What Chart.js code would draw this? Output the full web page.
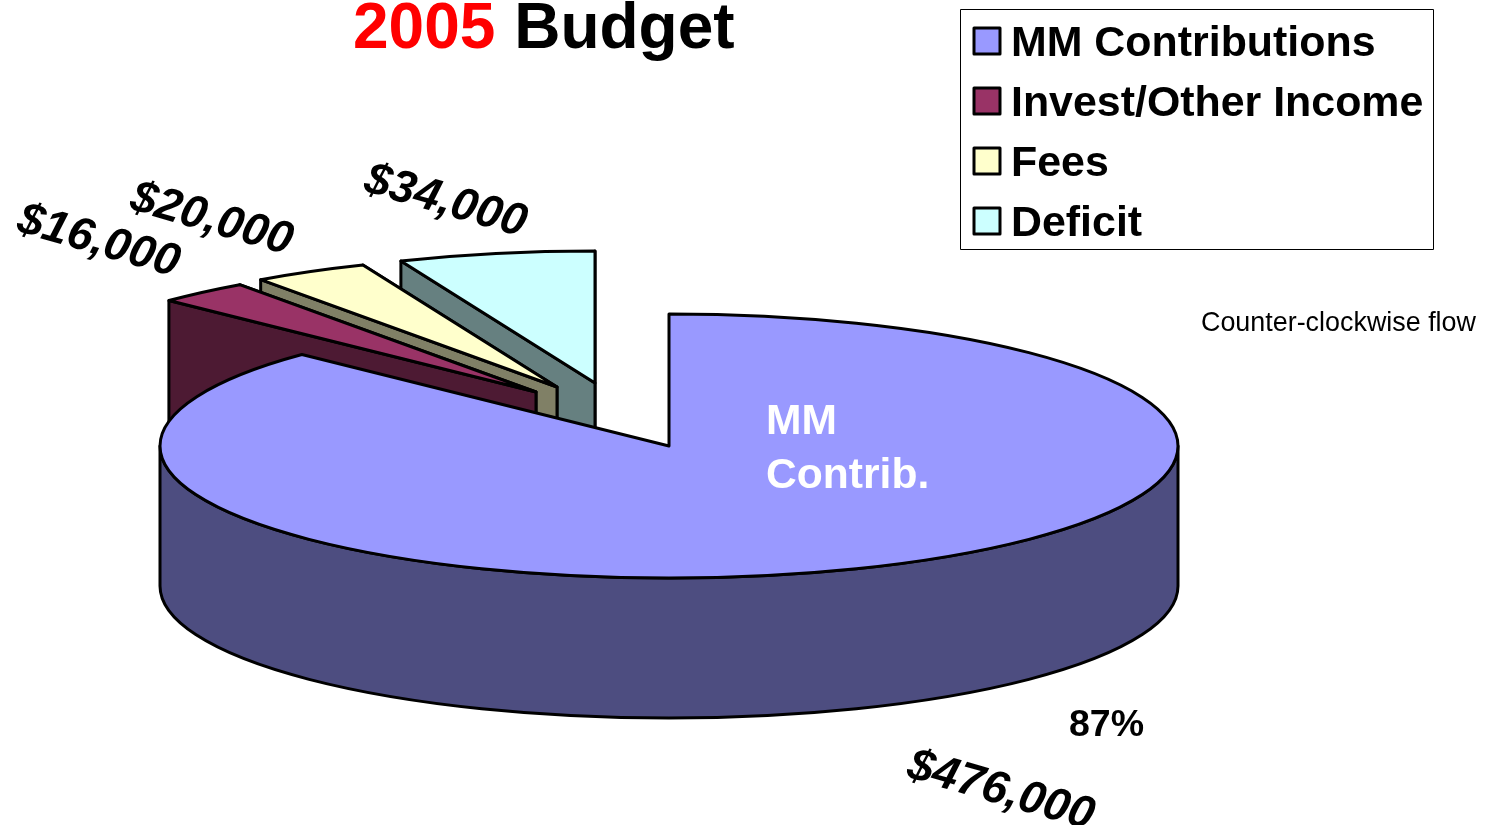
<!DOCTYPE html>
<html>
<head>
<meta charset="utf-8">
<title>2005 Budget</title>
<script src="https://cdn.jsdelivr.net/npm/chart.js@4"></script>
<style>
  body { margin: 0; background: #fff; }
  canvas { display: block; }
</style>
</head>
<body>
<canvas id="budgetPie" width="1487" height="825"></canvas>
<script>
'use strict'

// data
const categories = ["MM Contributions", "Invest/Other Income", "Fees", "Deficit"];
const budgetValues = [476000, 16000, 20000, 34000];
const valueLabels = ["$476,000", "$16,000", "$20,000", "$34,000"];
const percentLabel = "87%";

const topColors = ["#9999FF", "#993366", "#FFFFCC", "#CCFFFF"];
const wallColors = ["#4D4D80", "#4D1A33", "#808066", "#668080"];

// the pulled out slices, in px on the page
const sliceShift = [[0, 0], [-133, -54], [-112, -59], [-74, -63]];

const RX = 509;
const RY = 132;
const DEPTH = 140;
const FONT = '"Liberation Sans", Arial, sans-serif';

function drawFaces (ctx, x, y, angle) {
    const ox = x + RX * Math.cos(angle);
    const oy = y + RY * Math.sin(angle);
    ctx.beginPath();
    ctx.moveTo(x, y);
    ctx.lineTo(ox, oy);
    ctx.lineTo(ox, oy + DEPTH);
    ctx.lineTo(x, y + DEPTH);
    ctx.closePath();
    ctx.fill();
    ctx.stroke();
}

// 立体の円グラフ: the library's arcs, squashed, with walls under them
const pie3d = {
    id: "pie3d",
    beforeDatasetsDraw (chart) {
        const ctx = chart.ctx;
        const arcs = chart.getDatasetMeta(0).data;

        ctx.lineWidth = 3;
        ctx.lineJoin = "round";
        ctx.strokeStyle = "#000";

        for (let i = arcs.length - 1; i >= 0; i--) {
            const el = arcs[i];
            const x = el.x + sliceShift[i][0];
            const y = el.y + sliceShift[i][1];

            ctx.fillStyle = wallColors[i];
            if (i > 0) {
                drawFaces(ctx, x, y, el.endAngle);
                drawFaces(ctx, x, y, el.startAngle);
            }

            // only the front of the rim can be seen
            const lo = Math.max(el.startAngle, 0);
            const hi = Math.min(el.endAngle, Math.PI);
            if (hi > lo) {
                ctx.beginPath();
                ctx.ellipse(x, y, RX, RY, 0, lo, hi);
                ctx.ellipse(x, y + DEPTH, RX, RY, 0, hi, lo, true);
                ctx.closePath();
                ctx.fill();
                ctx.stroke();
            }

            ctx.save();
            ctx.translate(x, y);
            ctx.scale(RX / el.outerRadius, RY / el.outerRadius);
            ctx.translate(-el.x, -el.y);
            el.draw(ctx);
            ctx.restore();

            ctx.beginPath();
            ctx.moveTo(x, y);
            ctx.ellipse(x, y, RX, RY, 0, el.startAngle, el.endAngle);
            ctx.closePath();
            ctx.stroke();
        }
        return false;
    },
    afterDraw (chart) {
        const ctx = chart.ctx;
        ctx.save();
        ctx.textBaseline = "alphabetic";
        ctx.textAlign = "left";

        // title
        ctx.font = "bold 64px " + FONT;
        ctx.fillStyle = "#FF0000";
        ctx.fillText("2005", 353, 48);
        const yearWidth = ctx.measureText("2005 ").width;
        ctx.fillStyle = "#000";
        ctx.fillText("Budget", 354 + yearWidth, 48);

        // legend
        ctx.fillStyle = "#fff";
        ctx.strokeStyle = "#000";
        ctx.lineWidth = 1;
        ctx.strokeRect(960.5, 9.5, 473, 240);
        ctx.font = "bold 42.9px " + FONT;
        chart.data.labels.forEach((label, i) => {
            const rowY = 41 + i * 60;
            ctx.fillStyle = topColors[i];
            ctx.fillRect(974, rowY - 13, 26, 26);
            ctx.lineWidth = 3;
            ctx.strokeRect(974, rowY - 13, 26, 26);
            ctx.fillStyle = "#000";
            ctx.fillText(label, 1011, rowY + 15);
        });

        // notes
        ctx.font = "26.9px " + FONT;
        ctx.fillText("Counter-clockwise flow", 1201, 331);
        ctx.font = "bold 37.5px " + FONT;
        ctx.fillText(percentLabel, 1069, 736);
        ctx.font = "bold 42.6px " + FONT;
        ctx.fillStyle = "#fff";
        ctx.fillText("MM", 766, 434);
        ctx.fillText("Contrib.", 766, 488);

        // slanted value labels
        const anchors = [[905, 777], [15, 231], [128, 209], [362, 191]];
        ctx.fillStyle = "#000";
        ctx.font = "italic bold 46px " + FONT;
        valueLabels.forEach((text, i) => {
            ctx.save();
            ctx.translate(anchors[i][0], anchors[i][1]);
            ctx.rotate(16 * Math.PI / 180);
            ctx.fillText(text, 0, 0);
            ctx.restore();
        });
        ctx.restore();
    }
};

new Chart(document.getElementById("budgetPie"), {
    type: "pie",
    data: {
        labels: categories,
        datasets: [{
            data: budgetValues,
            backgroundColor: topColors,
            borderWidth: 0
        }]
    },
    options: {
        responsive: false,
        animation: false,
        events: [],
        layout: { padding: { left: 160, right: 309, top: 67, bottom: 0 } },
        plugins: {
            legend: { display: false },
            tooltip: { enabled: false }
        }
    },
    plugins: [pie3d]
});
</script>
</body>
</html>
